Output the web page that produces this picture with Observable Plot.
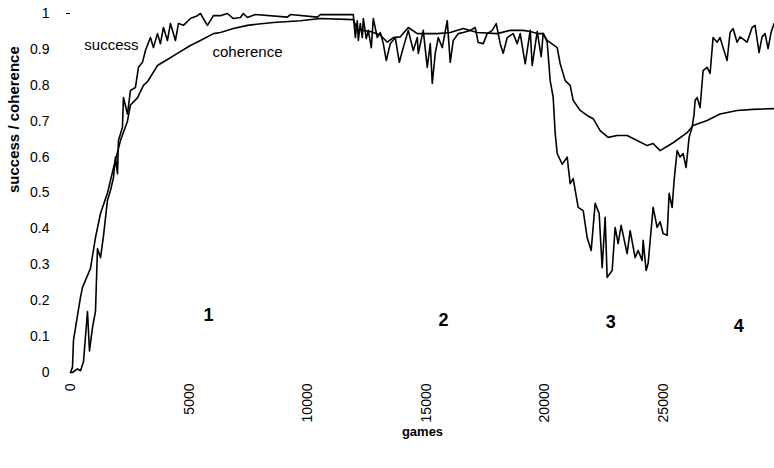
<!DOCTYPE html>
<html><head><meta charset="utf-8">
<script src="https://cdn.jsdelivr.net/npm/d3@7"></script>
<script src="https://cdn.jsdelivr.net/npm/@observablehq/plot@0.6"></script>
<style>body{margin:0;background:#fff}</style>
</head><body><div id="chart"></div>
<script>
// success series (games, value)
const successGames = [0,84,295,422,548,717,801,928,1054,1138,1265,1391,1560,1686,1813,1897,1982,2024,2192,2234,2403,2530,2740,2867,3036,3162,3373,3499,3668,3794,3921,4090,4216,4427,4553,4764,5059,5354,5481,5776,6029,6324,6619,6872,7167,7294,7462,7800,9149,9275,10414,10540,11931,
12016,12100,12142,12226,12311,12353,12479,12564,12690,12774,12943,13070,13196,13323,13491,13702,13871,14039,14250,14461,14630,14672,14882,15051,15178,15262,15388,15515,15684,15894,16021,16147,16358,16569,16864,17075,17201,17412,17581,17792,17960,18129,18255,18424,18677,18846,18972,19183,19394,19478,19689,19857,19942,20110,
20237,20363,20448,20532,20743,20954,21080,21207,21418,21629,21797,21966,22134,22303,22429,22556,22640,22851,22977,23104,23230,23483,23610,23820,23947,24116,24158,24284,24369,24580,24748,24874,25001,25170,25254,25381,25465,25591,25718,25844,25971,26097,26224,26308,26350,26435,26561,26688,26857,26983,27109,27278,27404,27531,27700,27826,27953,28121,28248,28543,28754,28880,29049,29175,29302,29428,29555,29681];
const successValues = [0,0,0.01,0.005,0.03,0.17,0.06,0.125,0.17,0.345,0.32,0.38,0.48,0.507,0.543,0.6,0.554,0.646,0.683,0.766,0.72,0.786,0.794,0.85,0.864,0.897,0.933,0.905,0.944,0.916,0.961,0.925,0.972,0.925,0.972,0.967,0.986,0.994,1.0,0.967,0.994,0.994,1.0,0.986,0.989,1.0,0.989,0.997,0.99,0.997,0.99,0.997,0.997,
0.933,0.98,0.925,0.972,0.933,0.986,0.93,0.953,0.905,0.986,0.933,0.947,0.916,0.869,0.916,0.933,0.864,0.905,0.953,0.897,0.933,0.889,0.953,0.85,0.916,0.805,0.889,0.933,0.905,0.98,0.864,0.925,0.944,0.947,0.953,0.961,0.919,0.916,0.944,0.953,0.972,0.916,0.889,0.933,0.944,0.916,0.944,0.86,0.953,0.855,0.95,0.88,0.945,0.92,
0.813,0.766,0.666,0.61,0.58,0.6,0.526,0.54,0.46,0.451,0.376,0.34,0.471,0.443,0.292,0.432,0.265,0.284,0.404,0.359,0.41,0.331,0.395,0.32,0.34,0.312,0.368,0.284,0.304,0.46,0.404,0.42,0.387,0.382,0.499,0.46,0.535,0.618,0.6,0.61,0.571,0.655,0.683,0.72,0.758,0.766,0.738,0.841,0.85,0.833,0.933,0.92,0.933,0.905,0.869,0.947,0.958,0.92,0.935,0.92,0.961,0.967,0.891,0.935,0.944,0.902,0.947,0.972];

// coherence series (games, value)
const coherenceGames = [0,84,126,422,506,843,1054,1265,1560,1813,2108,2403,2530,2825,3078,3246,3668,4090,4511,5059,5481,6029,6324,6872,7462,7715,8558,9697,10540,11931,
12100,12648,13070,13365,13618,13913,14250,14630,15473,16021,16569,17159,18003,18550,19099,19394,19689,19942,20110,20532,20658,20870,21080,21207,21502,21797,22050,22345,22682,23062,23483,23905,24327,24580,24874,25423,26013,26266,26857,27404,28121,28796,29681];
const coherenceValues = [0,0.015,0.09,0.21,0.237,0.29,0.376,0.443,0.5,0.57,0.646,0.70,0.745,0.765,0.80,0.81,0.855,0.872,0.889,0.911,0.925,0.944,0.947,0.958,0.967,0.969,0.975,0.98,0.986,0.983,
0.955,0.95,0.94,0.92,0.933,0.935,0.961,0.944,0.944,0.947,0.958,0.947,0.944,0.953,0.953,0.95,0.944,0.944,0.925,0.905,0.86,0.813,0.80,0.758,0.73,0.716,0.707,0.674,0.655,0.66,0.66,0.646,0.632,0.638,0.618,0.64,0.668,0.688,0.702,0.72,0.73,0.733,0.735];

const xTicks = [0,5000,10000,15000,20000,25000];
const yTicks = [0,0.1,0.2,0.3,0.4,0.5,0.6,0.7,0.8,0.9,1];

const phaseLabels = ["1","2","3","4"];
const phaseGames = [5820,15740,22790,28190];
const phaseValues = [0.159,0.145,0.14,0.13];

const seriesLabels = ["success","coherence"];
const seriesGames = [2870,5990];
const seriesValues = [0.911,0.891];
const seriesAnchors = ["end","start"];

const success = successGames.map((g,i)=>({games:g, value:successValues[i]}));
const coherence = coherenceGames.map((g,i)=>({games:g, value:coherenceValues[i]}));
const phases = phaseLabels.map((t,i)=>({t, games:phaseGames[i], value:phaseValues[i]}));
const slabels = seriesLabels.map((t,i)=>({t, games:seriesGames[i], value:seriesValues[i], anchor:seriesAnchors[i]}));

const font = "'Liberation Sans', Arial, Helvetica, sans-serif";
const chart = Plot.plot({
  width: 774, height: 468,
  marginLeft: 70, marginRight: 0, marginTop: 13, marginBottom: 96,
  x: {domain: [0, 29700]},
  y: {domain: [0, 1]},
  style: {fontFamily: font, background: "#fff", color: "#000", overflow: "visible"},
  marks: [
    Plot.axisY({ticks: yTicks, tickSize: 0, tickPadding: 21, fontSize: 14, tickFormat: d => String(+d.toFixed(1)), label: null}),
    Plot.axisY({ticks: [1], tickSize: 4, tickFormat: () => "", label: null}),
    Plot.axisX({ticks: xTicks, tickSize: 0, tickPadding: 11, tickRotate: -90, fontSize: 14, tickFormat: d => String(d), label: null}),
    Plot.text(["success / coherence"], {frameAnchor: "left", dx: -56, rotate: -90, fontWeight: "bold", fontSize: 15}),
    Plot.text(["games"], {frameAnchor: "bottom", dy: 63, fontWeight: "bold", fontSize: 13}),
    Plot.line(success, {x: "games", y: "value", stroke: "#000", strokeWidth: 1.6}),
    Plot.line(coherence, {x: "games", y: "value", stroke: "#000", strokeWidth: 1.6}),
    Plot.text(phases, {x: "games", y: "value", text: "t", fontWeight: "bold", fontSize: 18}),
    Plot.text(slabels.filter(d=>d.anchor==="end"), {x: "games", y: "value", text: "t", textAnchor: "end", fontSize: 15}),
    Plot.text(slabels.filter(d=>d.anchor==="start"), {x: "games", y: "value", text: "t", textAnchor: "start", fontSize: 15})
  ]
});
document.getElementById("chart").appendChild(chart);
</script>
</body></html>
